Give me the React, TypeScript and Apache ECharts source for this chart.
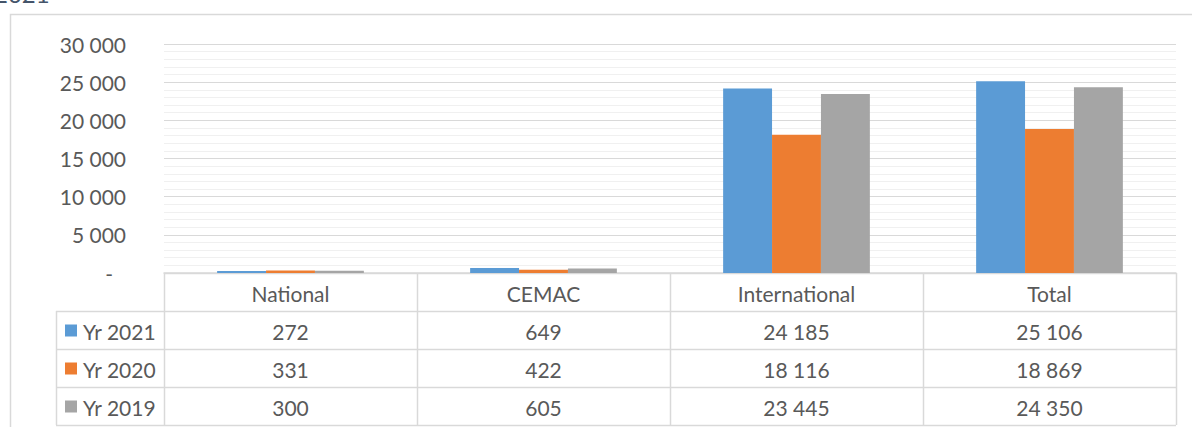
import React, { useEffect, useRef } from "react";
import * as echarts from "echarts";

const categories = ["National", "CEMAC", "International", "Total"];
const seriesNames = ["Yr 2021", "Yr 2020", "Yr 2019"];
const yr2021 = [272, 649, 24185, 25106];
const yr2020 = [331, 422, 18116, 18869];
const yr2019 = [300, 605, 23445, 24350];
const seriesColors = ["#5B9BD5", "#ED7D31", "#A5A5A5"];
const yTicks = { min: 0, max: 30000, interval: 5000 };
const pageTitle = "2021";

const W = 1192;
const H = 427;
const plotLeft = 164;
const plotRight = 1176;
const plotTop = 44;
const plotBottom = 273;
const rowH = 38;
const legendLeft = 56;
const FONT = "Lato, 'Open Sans', sans-serif";
const TEXT = "#595959";
const LINE = "#D9D9D9";

const fmt = (v: number) => {
  const s = Math.round(v).toString();
  return s.replace(/\B(?=(\d{3})+(?!\d))/g, " ");
};

export default function App() {
  const ref = useRef<HTMLDivElement>(null);
  useEffect(() => {
    if (!ref.current) return;
    const chart = echarts.init(ref.current, null, { renderer: "svg" });
    const data = [yr2021, yr2020, yr2019];
    const colW = (plotRight - plotLeft) / categories.length;
    const tableBottom = plotBottom + rowH * (seriesNames.length + 1);
    const g: any[] = [];
    // outer chart border
    g.push({
      type: "rect",
      shape: { x: 10.5, y: 14.5, width: 1300, height: 600 },
      style: { fill: "none", stroke: LINE, lineWidth: 1.5 },
      silent: true,
    });
    // partial page title at top
    g.push({
      type: "text",
      x: -6,
      y: 5,
      style: { text: pageTitle, fill: "#44546A", font: `24px ${FONT}`, textVerticalAlign: "bottom", textAlign: "left" },
      silent: true,
    });
    // horizontal table lines
    for (let r = 0; r <= seriesNames.length + 1; r++) {
      const y = plotBottom + r * rowH + 0.5;
      g.push({
        type: "line",
        shape: { x1: r === 0 ? plotLeft : legendLeft, y1: y, x2: plotRight, y2: y },
        style: { stroke: LINE, lineWidth: 1.5 },
        silent: true,
      });
    }
    // vertical table lines
    for (let c = 0; c <= categories.length; c++) {
      const x = plotLeft + c * colW + 0.5;
      g.push({
        type: "line",
        shape: { x1: x, y1: plotBottom, x2: x, y2: tableBottom },
        style: { stroke: LINE, lineWidth: 1.5 },
        silent: true,
      });
    }
    g.push({
      type: "line",
      shape: { x1: legendLeft + 0.5, y1: plotBottom + rowH, x2: legendLeft + 0.5, y2: tableBottom },
      style: { stroke: LINE, lineWidth: 1.5 },
      silent: true,
    });
    // header texts
    categories.forEach((c, i) => {
      g.push({
        type: "text",
        x: plotLeft + (i + 0.5) * colW,
        y: plotBottom + rowH / 2 + 1,
        style: { text: c, fill: TEXT, font: `21px ${FONT}`, textAlign: "center", textVerticalAlign: "middle" },
        silent: true,
      });
    });
    // rows
    seriesNames.forEach((name, r) => {
      const yc = plotBottom + (r + 1.5) * rowH + 1;
      g.push({
        type: "rect",
        shape: { x: 65, y: yc - 6.5, width: 12, height: 12 },
        style: { fill: seriesColors[r] },
        silent: true,
      });
      g.push({
        type: "text",
        x: 83,
        y: yc,
        style: { text: name, fill: TEXT, font: `21px ${FONT}`, textAlign: "left", textVerticalAlign: "middle" },
        silent: true,
      });
      data[r].forEach((v, i) => {
        g.push({
          type: "text",
          x: plotLeft + (i + 0.5) * colW,
          y: yc,
          style: { text: fmt(v), fill: TEXT, font: `21px ${FONT}`, textAlign: "center", textVerticalAlign: "middle" },
          silent: true,
        });
      });
    });

    chart.setOption({
      animation: false,
      backgroundColor: "#FFFFFF",
      grid: { left: plotLeft, right: W - plotRight, top: plotTop, bottom: H - plotBottom, containLabel: false },
      xAxis: {
        type: "category",
        data: categories,
        axisLine: { show: true, lineStyle: { color: LINE, width: 1.5 } },
        axisTick: { show: false },
        axisLabel: { show: false },
        splitLine: { show: false },
      },
      yAxis: {
        type: "value",
        min: yTicks.min,
        max: yTicks.max,
        interval: yTicks.interval,
        axisLine: { show: false },
        axisTick: { show: false },
        axisLabel: {
          margin: 38,
          color: TEXT,
          fontFamily: FONT,
          fontSize: 21,
          formatter: (v: number) => (v === 0 ? "{d|-}" : fmt(v)),
          rich: { d: { color: TEXT, fontFamily: FONT, fontSize: 21, padding: [0, 13, 0, 0] } },
        },
        splitLine: { show: true, lineStyle: { color: LINE, width: 1.2 } },
        minorTick: { show: false, splitNumber: 5 },
        minorSplitLine: { show: true, lineStyle: { color: "#F0F0F0", width: 1.2 } },
      },
      series: seriesNames.map((n, i) => ({
        name: n,
        type: "bar",
        data: data[i],
        barGap: "0%",
        barCategoryGap: "42%",
        itemStyle: { color: seriesColors[i] },
      })),
      graphic: g,
    });
    return () => chart.dispose();
  }, []);
  return <div ref={ref} style={{ position: "fixed", left: 0, top: 0, width: W, height: H }} />;
}
